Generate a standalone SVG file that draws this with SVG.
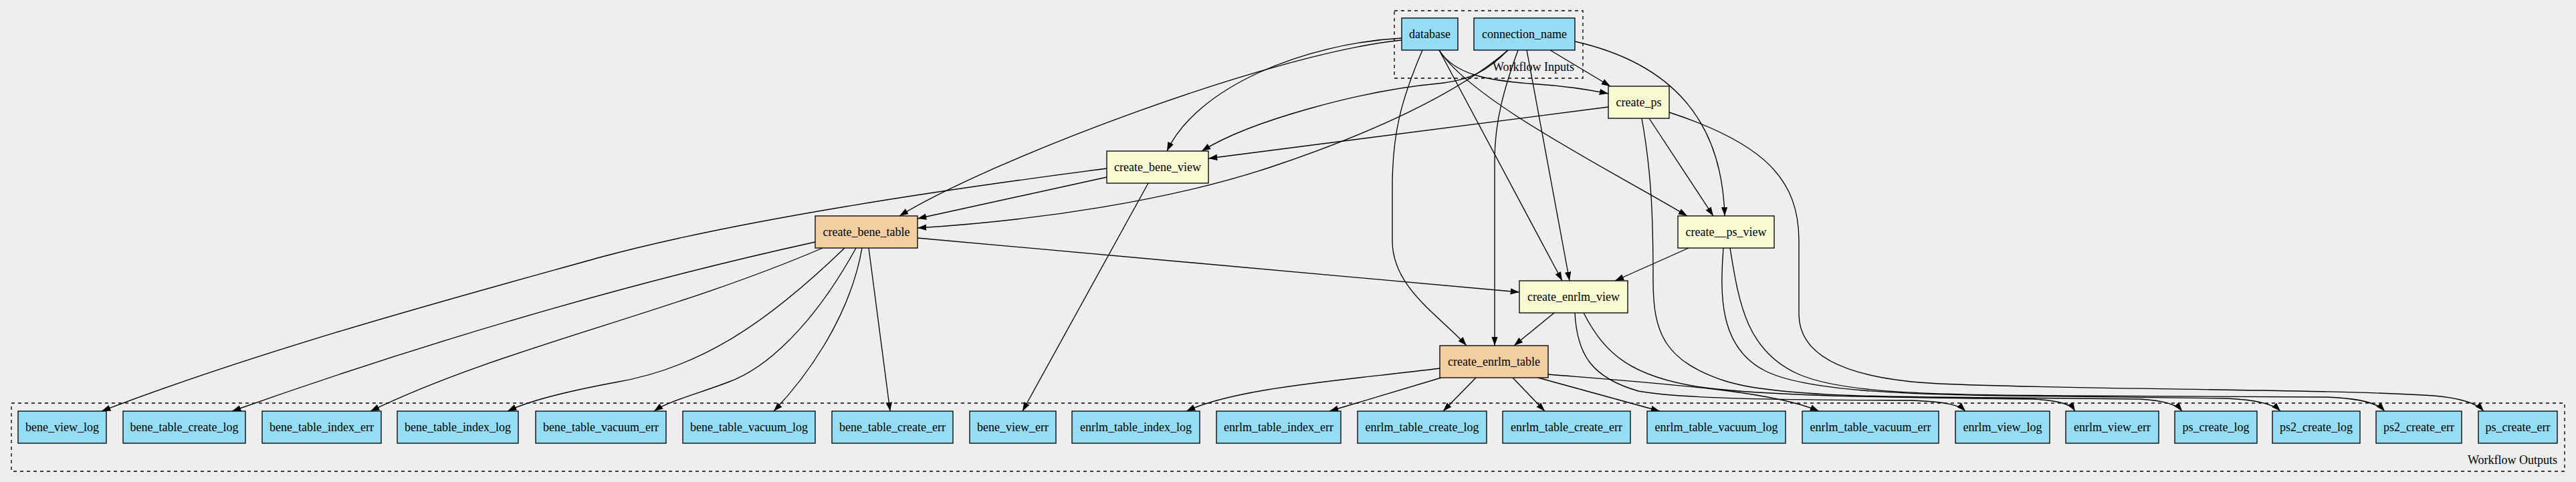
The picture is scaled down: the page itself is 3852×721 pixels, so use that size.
<svg xmlns="http://www.w3.org/2000/svg" width="3852" height="721" viewBox="0 0 3852 721">
<style>
.n rect{stroke:#000;stroke-width:1.33}
.io rect{fill:#94DDF4}
.st rect{fill:#FAFAD2}
.sw rect{fill:#F3CEA1}
text{font-family:"Liberation Serif","Times New Roman",serif;font-size:18px;fill:#000}
.n text{text-anchor:middle}
.cl{fill:none;stroke:#000;stroke-width:1.33;stroke-dasharray:5,5}
.cll{text-anchor:end}
#edges path{fill:none;stroke:#000;stroke-width:1.33;marker-end:url(#ah)}
</style>
<defs>
<marker id="ah" viewBox="0 0 14 10" refX="13.3" refY="5" markerWidth="14" markerHeight="10" orient="auto" markerUnits="userSpaceOnUse"><path d="M0,0.3 L13.3,5 L0,9.7 z" fill="#000"/></marker>
</defs>
<rect x="0" y="0" width="3852" height="721" fill="#eeeeee"/>
<g id="cluster_inputs">
<rect class="cl" x="2085" y="16" width="282" height="101"/>
<text class="cll" x="2354" y="106">Workflow Inputs</text>
</g>
<g id="cluster_outputs">
<rect class="cl" x="17" y="603" width="3818" height="102"/>
<text class="cll" x="3824" y="694">Workflow Outputs</text>
</g>
<g id="edges">
<path d="M2096,57 C1950,65 1790,130 1745,226"/>
<path d="M2096,60 C1900,80 1480,240 1345,323"/>
<path d="M2152,75 C2175,112 2225,121 2300,126 C2345,129 2375,134 2405,140"/>
<path d="M2152,75 C2200,150 2400,250 2523,323"/>
<path d="M2152,75 L2336,420"/>
<path d="M2127,75 C2095,150 2082,200 2082,280 L2082,360 C2082,430 2150,470 2193,517"/>
<path d="M2318,75 L2408,129"/>
<path d="M2355,62 C2500,95 2575,180 2579,323"/>
<path d="M2255,75 C2225,105 2200,120 2150,125 C2040,135 1870,180 1797,226"/>
<path d="M2255,75 C2180,140 2050,200 1900,250 C1750,300 1550,330 1372,341"/>
<path d="M2270,75 C2250,130 2235,180 2235,240 L2235,517"/>
<path d="M2283,75 L2347,420"/>
<path d="M2405,160 L1807,237"/>
<path d="M2466,177 L2562,323"/>
<path d="M2455,177 C2470,260 2472,330 2472,420 C2472,500 2490,540 2580,570 C2650,592 2800,594 3000,595 L3200,597 C3235,599 3255,605 3263,615"/>
<path d="M2496,168 C2640,215 2690,270 2690,360 L2690,470 C2690,540 2780,568 2900,574 C3100,583 3500,582 3640,592 C3685,596 3705,605 3714,615"/>
<path d="M2525,371 L2415,420"/>
<path d="M2577,371 C2572,440 2570,520 2640,555 C2700,585 2850,590 3000,592 L3330,596 C3375,598 3400,605 3410,615"/>
<path d="M2587,371 C2600,450 2610,525 2690,560 C2760,590 2900,590 3100,592 L3480,594 C3530,596 3555,603 3566,615"/>
<path d="M2324,468 L2264,517"/>
<path d="M2355,468 C2358,530 2380,565 2450,585 C2520,598 2700,598 2860,599 C2910,601 2930,606 2939,615"/>
<path d="M2368,468 C2400,530 2440,565 2550,580 C2650,592 2800,594 2950,596 L3040,597 C3080,599 3097,605 3103,615"/>
<path d="M2153,551 C2000,570 1850,580 1774,615"/>
<path d="M2155,565 L1988,615"/>
<path d="M2207,565 L2158,615"/>
<path d="M2262,565 L2310,615"/>
<path d="M2300,565 L2482,615"/>
<path d="M2315,560 C2500,575 2650,585 2720,615"/>
<path d="M1655,265 L1372,327"/>
<path d="M1655,252 C1400,285 1100,330 897,385 C700,440 400,520 152,615"/>
<path d="M1717,274 L1529,615"/>
<path d="M1372,356 L2272,437"/>
<path d="M1219,362 C1000,410 700,490 347,615"/>
<path d="M1230,371 C1000,470 750,520 554,615"/>
<path d="M1263,371 C1150,480 1050,550 920,572 C850,585 790,600 759,615"/>
<path d="M1280,371 C1220,480 1150,550 1088,572 C1040,590 1000,600 978,615"/>
<path d="M1289,371 C1270,480 1200,570 1157,615"/>
<path d="M1299,371 L1331,615"/>
</g>
<g id="database" class="n io"><rect x="2096" y="27" width="84" height="48"/><text x="2138" y="56.5">database</text></g>
<g id="connection_name" class="n io"><rect x="2204" y="27" width="151" height="48"/><text x="2279.5" y="56.5">connection_name</text></g>
<g id="create_ps" class="n st"><rect x="2405" y="129" width="91" height="48"/><text x="2450.5" y="158.5">create_ps</text></g>
<g id="create_bene_view" class="n st"><rect x="1655" y="226" width="152" height="48"/><text x="1731" y="255.5">create_bene_view</text></g>
<g id="create__ps_view" class="n st"><rect x="2509" y="323" width="144" height="48"/><text x="2581" y="352.5">create__ps_view</text></g>
<g id="create_bene_table" class="n sw"><rect x="1219" y="323" width="153" height="48"/><text x="1295.5" y="352.5">create_bene_table</text></g>
<g id="create_enrlm_view" class="n st"><rect x="2272" y="420" width="162" height="48"/><text x="2353" y="449.5">create_enrlm_view</text></g>
<g id="create_enrlm_table" class="n sw"><rect x="2153" y="517" width="162" height="48"/><text x="2234" y="546.5">create_enrlm_table</text></g>
<g id="bene_view_log" class="n io"><rect x="27" y="615" width="132" height="48"/><text x="93" y="644.5">bene_view_log</text></g>
<g id="bene_table_create_log" class="n io"><rect x="184" y="615" width="183" height="48"/><text x="275.5" y="644.5">bene_table_create_log</text></g>
<g id="bene_table_index_err" class="n io"><rect x="392" y="615" width="178" height="48"/><text x="481" y="644.5">bene_table_index_err</text></g>
<g id="bene_table_index_log" class="n io"><rect x="594" y="615" width="181" height="48"/><text x="684.5" y="644.5">bene_table_index_log</text></g>
<g id="bene_table_vacuum_err" class="n io"><rect x="801" y="615" width="195" height="48"/><text x="898.5" y="644.5">bene_table_vacuum_err</text></g>
<g id="bene_table_vacuum_log" class="n io"><rect x="1021" y="615" width="198" height="48"/><text x="1120" y="644.5">bene_table_vacuum_log</text></g>
<g id="bene_table_create_err" class="n io"><rect x="1244" y="615" width="181" height="48"/><text x="1334.5" y="644.5">bene_table_create_err</text></g>
<g id="bene_view_err" class="n io"><rect x="1450" y="615" width="129" height="48"/><text x="1514.5" y="644.5">bene_view_err</text></g>
<g id="enrlm_table_index_log" class="n io"><rect x="1603" y="615" width="191" height="48"/><text x="1698.5" y="644.5">enrlm_table_index_log</text></g>
<g id="enrlm_table_index_err" class="n io"><rect x="1819" y="615" width="186" height="48"/><text x="1912" y="644.5">enrlm_table_index_err</text></g>
<g id="enrlm_table_create_log" class="n io"><rect x="2030" y="615" width="193" height="48"/><text x="2126.5" y="644.5">enrlm_table_create_log</text></g>
<g id="enrlm_table_create_err" class="n io"><rect x="2247" y="615" width="191" height="48"/><text x="2342.5" y="644.5">enrlm_table_create_err</text></g>
<g id="enrlm_table_vacuum_log" class="n io"><rect x="2463" y="615" width="207" height="48"/><text x="2566.5" y="644.5">enrlm_table_vacuum_log</text></g>
<g id="enrlm_table_vacuum_err" class="n io"><rect x="2695" y="615" width="204" height="48"/><text x="2797" y="644.5">enrlm_table_vacuum_err</text></g>
<g id="enrlm_view_log" class="n io"><rect x="2924" y="615" width="141" height="48"/><text x="2994.5" y="644.5">enrlm_view_log</text></g>
<g id="enrlm_view_err" class="n io"><rect x="3089" y="615" width="139" height="48"/><text x="3158.5" y="644.5">enrlm_view_err</text></g>
<g id="ps_create_log" class="n io"><rect x="3252" y="615" width="123" height="48"/><text x="3313.5" y="644.5">ps_create_log</text></g>
<g id="ps2_create_log" class="n io"><rect x="3398" y="615" width="131" height="48"/><text x="3463.5" y="644.5">ps2_create_log</text></g>
<g id="ps2_create_err" class="n io"><rect x="3553" y="615" width="128" height="48"/><text x="3617" y="644.5">ps2_create_err</text></g>
<g id="ps_create_err" class="n io"><rect x="3706" y="615" width="118" height="48"/><text x="3765" y="644.5">ps_create_err</text></g>
</svg>
